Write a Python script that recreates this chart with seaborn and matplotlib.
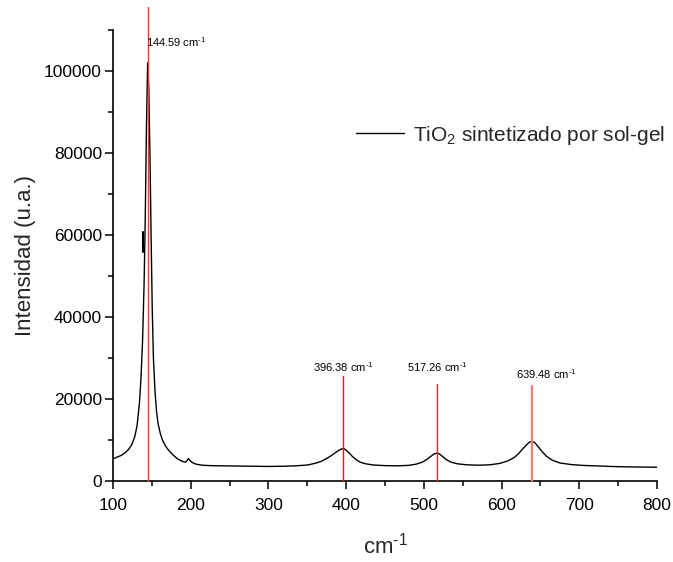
import matplotlib
matplotlib.use("Agg")
import matplotlib.pyplot as plt
from matplotlib.ticker import MultipleLocator
import seaborn as sns
import pandas as pd

# ---- data ----
wavenumber = [100, 105, 110, 115, 120, 124, 128, 131, 134, 136, 138, 140, 141.5, 143, 144.6,
              146, 147.5, 149, 150.5, 152, 154, 156, 158, 161, 164, 168, 172, 177, 183, 189,
              193, 195, 197, 199, 202, 207, 215, 225, 240, 260, 280, 300, 320, 335, 350, 360,
              368, 375, 381, 386, 390, 394, 397, 400, 404, 408, 413, 418, 425, 435, 450, 465,
              480, 490, 498, 504, 509, 513, 517, 520, 524, 529, 535, 543, 555, 570, 585, 598,
              608, 616, 622, 627, 632, 636, 639.5, 643, 647, 652, 658, 665, 675, 690, 705, 720,
              740, 760, 780, 800]
intensity = [5400, 5800, 6200, 6800, 7700, 8800, 10800, 13500, 19000, 25000, 34000, 48000, 64000,
             86000, 102000, 96000, 80000, 60000, 42000, 30000, 22000, 17000, 14000, 11500, 9800,
             8400, 7400, 6400, 5400, 4800, 4600, 4900, 5500, 5000, 4500, 4100, 3850, 3750, 3700,
             3650, 3600, 3550, 3600, 3700, 3900, 4300, 4800, 5500, 6200, 6900, 7400, 7800, 7900,
             7500, 6800, 6000, 5200, 4600, 4200, 3900, 3750, 3700, 3800, 4100, 4600, 5300, 6000,
             6600, 6800, 6600, 6000, 5200, 4600, 4200, 3950, 3850, 3950, 4300, 4900, 5700, 6700,
             7800, 8800, 9500, 9700, 9300, 8400, 7200, 6000, 5100, 4400, 4000, 3800, 3700, 3550,
             3450, 3400, 3350]
series_label = "TiO$_2$ sintetizado por sol-gel"

peak_positions = [144.59, 396.38, 517.26, 639.48]
peak_line_tops = [115700, 25600, 23700, 23200]
peak_labels = [r"144.59 cm$^{\text{-1}}$", r"396.38 cm$^{\text{-1}}$",
               r"517.26 cm$^{\text{-1}}$", r"639.48 cm$^{\text{-1}}$"]
label_x = [142.5, 357, 478, 618.5]
label_y = [107000, 27900, 27700, 26100]

artifact_x = [139.0, 139.0]
artifact_y = [55900, 60800]

x_ticks = [100, 200, 300, 400, 500, 600, 700, 800]
y_ticks = [0, 20000, 40000, 60000, 80000, 100000]

# ---- style ----
sns.set_style("ticks")
plt.rcParams['font.family'] = ['Liberation Sans', 'DejaVu Sans']
plt.rcParams['mathtext.fontset'] = 'custom'
plt.rcParams['mathtext.rm'] = 'Liberation Sans'
plt.rcParams['mathtext.it'] = 'Liberation Sans:italic'
plt.rcParams['mathtext.bf'] = 'Liberation Sans:bold'

fig = plt.figure(figsize=(6.73, 5.62), dpi=100)
ax = fig.add_axes([113/673, 1 - 481/562, (657 - 113)/673, (481 - 30)/562])

df = pd.DataFrame({"x": wavenumber, "y": intensity})
sns.lineplot(data=df, x="x", y="y", ax=ax, color="black", linewidth=1.0,
             label=series_label, sort=False)
ax.plot(artifact_x, artifact_y, color="black", linewidth=1.5)

line_colors = ["#ff3333", "#ee1111", "#ff2222", "#ff7777"]
line_widths = [1.0, 1.0, 1.0, 1.6]
for xp, top, c, w in zip(peak_positions, peak_line_tops, line_colors, line_widths):
    ax.plot([xp, xp], [0, top], color=c, linewidth=w, clip_on=False, zorder=3)
for txt, tx, ty in zip(peak_labels, label_x, label_y):
    ax.text(tx, ty, txt, fontsize=8, ha="left", va="center", color="black")

ax.set_xlim(100, 800)
ax.set_ylim(0, 110000)
ax.set_xticks(x_ticks)
ax.set_yticks(y_ticks)
ax.xaxis.set_minor_locator(MultipleLocator(50))
ax.yaxis.set_minor_locator(MultipleLocator(10000))
ax.tick_params(which="major", direction="out", length=6, width=1.1, labelsize=12.5, colors="black")
ax.tick_params(axis="x", which="major", pad=6)
ax.tick_params(axis="y", which="major", pad=2)
ax.tick_params(which="minor", direction="out", length=3.5, width=1.1, colors="black")
for s in ["left", "bottom"]:
    ax.spines[s].set_linewidth(1.2)
    ax.spines[s].set_color("black")
sns.despine(ax=ax)

ax.set_xlabel(r"cm$^{\text{-1}}$", fontsize=16, labelpad=14)
ax.set_ylabel("Intensidad (u.a.)", fontsize=16, labelpad=6)

ax.legend(loc="center left", bbox_to_anchor=(356/673, 1 - 135/562), bbox_transform=fig.transFigure,
          frameon=False, fontsize=15, handlelength=2.3, handletextpad=0.45, borderpad=0,
          borderaxespad=0)

fig.savefig("out.png", dpi=100)
